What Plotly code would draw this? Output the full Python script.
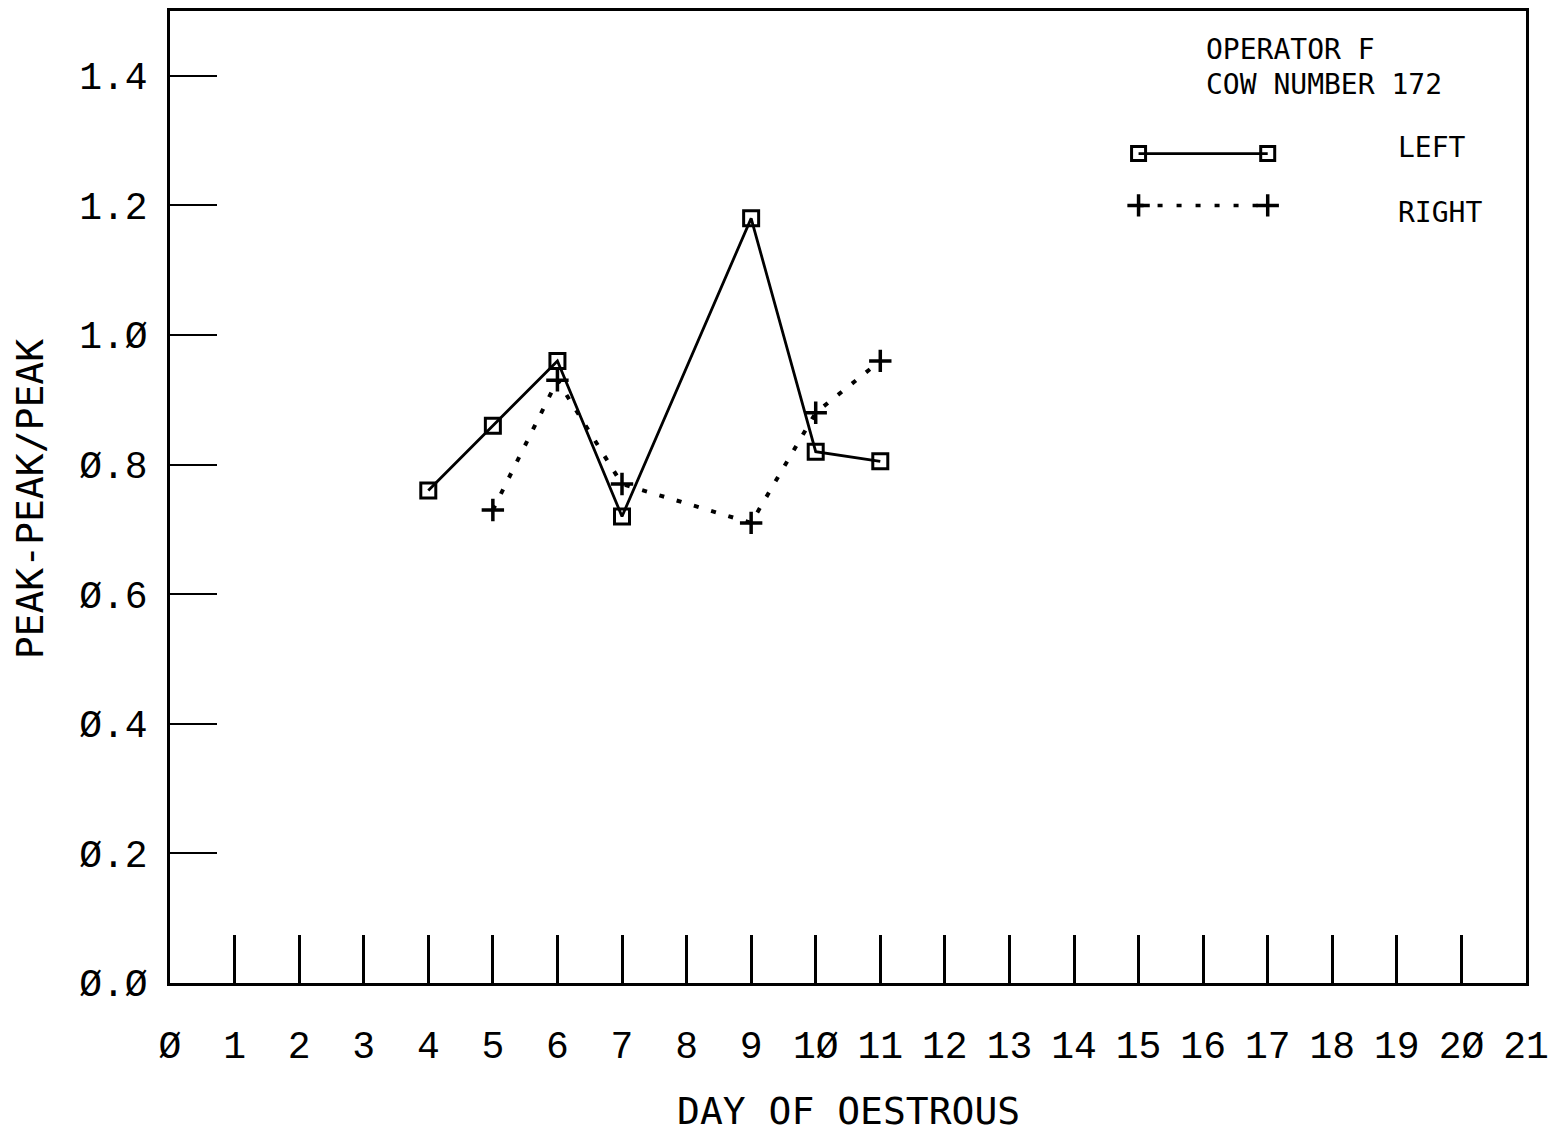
import plotly.graph_objects as go

# Data
left_days = [4, 5, 6, 7, 9, 10, 11]
left_vals = [0.76, 0.86, 0.96, 0.72, 1.18, 0.82, 0.805]
right_days = [5, 6, 7, 9, 10, 11]
right_vals = [0.73, 0.93, 0.77, 0.71, 0.88, 0.96]

x_ticks = list(range(0, 22))
x_tick_text = [str(d).replace("0", "Ø") for d in x_ticks]
y_ticks = [0.0, 0.2, 0.4, 0.6, 0.8, 1.0, 1.2, 1.4]
y_tick_text = ["Ø.Ø", "Ø.2", "Ø.4", "Ø.6", "Ø.8", "1.Ø", "1.2", "1.4"]

legend_x = [15, 17]
legend_left_y = [1.28, 1.28]
legend_right_y = [1.20, 1.20]

TICK_FONT = dict(family="Liberation Mono", size=38, color="black")
TEXT_FONT = "DejaVu Sans Mono"

fig = go.Figure()

fig.add_trace(go.Scatter(
    x=left_days, y=left_vals, mode="lines+markers", name="LEFT",
    line=dict(color="black", width=2.8),
    marker=dict(symbol="square-open", size=15, color="black", line=dict(width=3)),
    showlegend=False,
))
fig.add_trace(go.Scatter(
    x=right_days, y=right_vals, mode="lines+markers", name="RIGHT",
    line=dict(color="black", width=4, dash="5px,13px"),
    marker=dict(symbol="cross-thin-open", size=16, color="black", line=dict(width=3.5, color="black")),
    showlegend=False,
))
# legend samples
fig.add_trace(go.Scatter(
    x=legend_x, y=legend_left_y, mode="lines+markers",
    line=dict(color="black", width=2.8),
    marker=dict(symbol="square-open", size=14, color="black", line=dict(width=3)),
    showlegend=False, hoverinfo="skip",
))
fig.add_trace(go.Scatter(
    x=legend_x, y=legend_right_y, mode="lines+markers",
    line=dict(color="black", width=3.5, dash="5px,14px"),
    marker=dict(symbol="cross-thin-open", size=16, color="black", line=dict(width=3.5, color="black")),
    showlegend=False, hoverinfo="skip",
))

fig.update_layout(
    width=1557, height=1132,
    margin=dict(l=170, r=29, t=8, b=149),
    paper_bgcolor="white", plot_bgcolor="white",
    showlegend=False,
    xaxis=dict(
        range=[0, 21], tickmode="array", tickvals=x_ticks, ticktext=x_tick_text,
        ticks="inside", ticklen=48, tickwidth=2.5, tickcolor="black",
        showline=True, linecolor="black", linewidth=2.5, mirror=True,
        showgrid=False, zeroline=False, tickfont=TICK_FONT,
        ticklabelstandoff=27,
    ),
    yaxis=dict(
        range=[0, 1.5], tickmode="array", tickvals=y_ticks, ticktext=y_tick_text,
        ticks="inside", ticklen=47, tickwidth=2, tickcolor="black",
        showline=True, linecolor="black", linewidth=2.5, mirror=True,
        showgrid=False, zeroline=False, tickfont=TICK_FONT,
        ticklabelstandoff=12,
    ),
    annotations=[
        dict(text="DAY OF OESTROUS", xref="paper", yref="paper", x=0.5007, y=-0.132,
             showarrow=False, font=dict(family=TEXT_FONT, size=38, color="black"),
             xanchor="center", yanchor="middle"),
        dict(text="PEAK-PEAK/PEAK", xref="paper", yref="paper", x=-0.103, y=0.498,
             showarrow=False, textangle=-90, font=dict(family=TEXT_FONT, size=38, color="black"),
             xanchor="center", yanchor="middle"),
        dict(text="OPERATOR F", xref="paper", yref="paper", x=(1206 - 170) / 1358, y=(983 - 47) / 975,
             showarrow=False, font=dict(family=TEXT_FONT, size=28, color="black"),
             xanchor="left", yanchor="middle"),
        dict(text="COW NUMBER 172", xref="paper", yref="paper", x=(1206 - 170) / 1358, y=(983 - 82) / 975,
             showarrow=False, font=dict(family=TEXT_FONT, size=28, color="black"),
             xanchor="left", yanchor="middle"),
        dict(text="LEFT", xref="paper", yref="paper", x=(1398 - 170) / 1358, y=(983 - 145) / 975,
             showarrow=False, font=dict(family=TEXT_FONT, size=28, color="black"),
             xanchor="left", yanchor="middle"),
        dict(text="RIGHT", xref="paper", yref="paper", x=(1398 - 170) / 1358, y=(983 - 210) / 975,
             showarrow=False, font=dict(family=TEXT_FONT, size=28, color="black"),
             xanchor="left", yanchor="middle"),
    ],
)

fig.write_html("out.html")
